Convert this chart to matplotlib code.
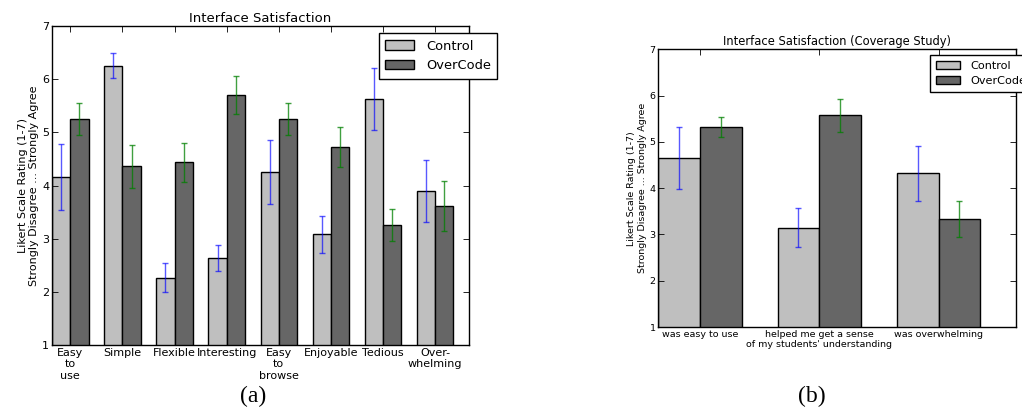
'''Interface satisfaction bar charts (a) and (b)'''
import numpy as np
import matplotlib.pyplot as plt

# 1. Data.
# (a) Interface satisfaction, all eight questions.
labelsA = ["Easy\nto\nuse", "Simple", "Flexible", "Interesting",
           "Easy\nto\nbrowse", "Enjoyable", "Tedious", "Over-\nwhelming"]
controlA = [4.17, 6.26, 2.27, 2.63, 4.26, 3.08, 5.63, 3.90]
controlErrA = [0.62, 0.24, 0.27, 0.245, 0.60, 0.34, 0.59, 0.59]
overcodeA = [5.26, 4.36, 4.44, 5.71, 5.26, 4.72, 3.26, 3.62]
overcodeErrA = [0.30, 0.41, 0.37, 0.355, 0.30, 0.375, 0.305, 0.47]

# (b) Coverage study.
labelsB = ["was easy to use",
           "helped me get a sense\nof my students' understanding",
           "was overwhelming"]
controlB = [4.66, 3.15, 4.32]
controlErrB = [0.67, 0.43, 0.60]
overcodeB = [5.32, 5.57, 3.33]
overcodeErrB = [0.22, 0.355, 0.39]

seriesNames = ["Control", "OverCode"]

# Bar width in index units.
width = 0.35

plt.rcParams['font.family'] = ['DejaVu Sans']

fig = plt.figure(figsize=(10.22, 4.13), dpi=100)


def drawPanel(ax, labels, ctrl, ctrlErr, oc, ocErr, title, fs, legendAnchor,
              legendFs):
    ind = np.arange(len(labels))
    b1 = ax.bar(ind, ctrl, width, bottom=0, color='0.75', edgecolor='black',
                linewidth=1, align='edge', yerr=ctrlErr,
                error_kw=dict(ecolor='blue', alpha=0.65, capsize=2,
                              elinewidth=1, capthick=1))
    b2 = ax.bar(ind + width, oc, width, color='0.4', edgecolor='black',
                linewidth=1, align='edge', yerr=ocErr,
                error_kw=dict(ecolor='green', alpha=0.75, capsize=2,
                              elinewidth=1, capthick=1))
    ax.set_ylim(1, 7)
    ax.set_xlim(0, len(labels))
    ax.set_xticks(ind + width)
    ax.set_xticklabels(labels, fontsize=fs, multialignment='center')
    ax.tick_params(axis='y', labelsize=fs)
    ax.tick_params(direction='in', top=True, right=True, length=4,
                   width=0.6, pad=2)
    ax.set_title(title, fontsize=fs + 1.5, pad=3)
    ax.set_ylabel("Likert Scale Rating (1-7)\n"
                  "Strongly Disagree ... Strongly Agree", fontsize=fs,
                  labelpad=2)
    for s in ax.spines.values():
        s.set_linewidth(1)
    ax.legend([b1[0], b2[0]], seriesNames, loc='upper left',
              bbox_to_anchor=legendAnchor, bbox_transform=fig.transFigure,
              fontsize=legendFs, fancybox=False, framealpha=1,
              edgecolor='black', borderpad=0.5, handlelength=2.2,
              handletextpad=0.9, labelspacing=0.5, borderaxespad=0)


# 2. Panel (a).
axA = fig.add_axes([0.0509, 0.1646, 0.408, 0.772])
drawPanel(axA, labelsA, controlA, controlErrA, overcodeA, overcodeErrA,
          "Interface Satisfaction", 8, (0.3708, 0.920), 9.4)

# 3. Panel (b).
axB = fig.add_axes([0.6442, 0.2082, 0.350, 0.6724])
drawPanel(axB, labelsB, controlB, controlErrB, overcodeB, overcodeErrB,
          "Interface Satisfaction (Coverage Study)", 6.8, (0.910, 0.867),
          8.1)

# Captions.
fig.text(0.2476, 0.027, "(a)", fontsize=17, ha='center',
         family=['Liberation Serif'])
fig.text(0.7945, 0.027, "(b)", fontsize=17, ha='center',
         family=['Liberation Serif'])

fig.savefig("out.png", dpi=100)
